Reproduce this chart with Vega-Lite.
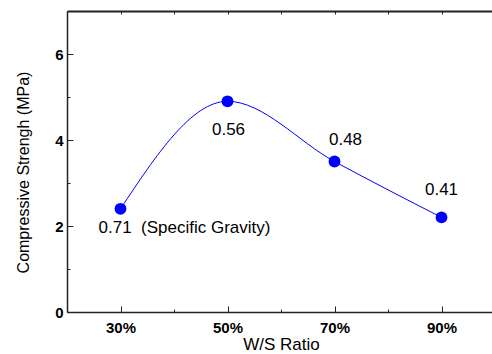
{
  "$schema": "https://vega.github.io/schema/vega-lite/v6.json",
  "autosize": "none",
  "width": 428,
  "height": 301,
  "padding": {"left": 67, "top": 11, "right": 0, "bottom": 42},
  "background": "white",
  "config": {
    "view": {"stroke": null},
    "font": "Liberation Sans",
    "axis": {"grid": false, "domainColor": "#222", "domainWidth": 1.5, "tickColor": "#222", "tickWidth": 1, "labelColor": "#000", "titleColor": "#000", "labelFont": "Liberation Sans", "titleFont": "Liberation Sans"}
  },
  "data": {"values": [
    {"ratio": 30, "strength": 2.4, "label": "0.71\u00a0 (Specific Gravity)"},
    {"ratio": 50, "strength": 4.9, "label": "0.56"},
    {"ratio": 70, "strength": 3.5, "label": "0.48"},
    {"ratio": 90, "strength": 2.2, "label": "0.41"}
  ]},
  "resolve": {"scale": {"x": "shared", "y": "shared"}, "axis": {"x": "independent", "y": "independent"}},
  "layer": [
    {
      "mark": {"type": "line", "interpolate": "monotone", "color": "#0000FF", "strokeWidth": 1},
      "encoding": {
        "x": {"field": "ratio", "type": "quantitative", "scale": {"domain": [20, 100], "nice": false, "zero": false},
          "axis": {"orient": "bottom", "values": [30, 50, 70, 90], "labelExpr": "datum.value + '%'", "labelFontWeight": "bold", "labelFontSize": 15, "tickSize": -6, "labelPadding": 14, "title": "W/S Ratio", "titleFontSize": 17, "titleFontWeight": "normal", "titlePadding": 1}},
        "y": {"field": "strength", "type": "quantitative", "scale": {"domain": [0, 7], "nice": false},
          "axis": {"orient": "left", "values": [0, 2, 4, 6], "labelFontWeight": "bold", "labelFontSize": 15, "tickSize": -6, "labelPadding": 10, "title": "Compressive Strengh (MPa)", "titleFontSize": 16, "titleFontWeight": "normal", "titleX": -36, "titleY": 161, "titleBaseline": "bottom", "titleAlign": "center", "titleAngle": -90}}
      }
    },
    {
      "mark": {"type": "point", "filled": true, "color": "#0000FF", "size": 140, "opacity": 1},
      "encoding": {
        "x": {"field": "ratio", "type": "quantitative",
          "axis": {"orient": "bottom", "values": [40, 60, 80], "labels": false, "tickSize": -3, "domain": false, "title": null}},
        "y": {"field": "strength", "type": "quantitative",
          "axis": {"orient": "left", "values": [1, 3, 5], "labels": false, "tickSize": -3, "domain": false, "title": null}}
      }
    },
    {
      "transform": [{"filter": "datum.ratio == 30"}],
      "mark": {"type": "text", "align": "left", "baseline": "alphabetic", "dx": -22, "dy": 24, "fontSize": 17, "color": "#000"},
      "encoding": {
        "x": {"field": "ratio", "type": "quantitative",
          "axis": {"orient": "top", "values": [20, 30, 40, 50, 60, 70, 80, 90, 100], "labels": false, "tickSize": -3, "domainWidth": 2, "title": null}},
        "y": {"field": "strength", "type": "quantitative", "axis": null},
        "text": {"field": "label"}
      }
    },
    {
      "transform": [{"filter": "datum.ratio == 50"}],
      "mark": {"type": "text", "align": "center", "baseline": "alphabetic", "dx": 1, "dy": 34, "fontSize": 17, "color": "#000"},
      "encoding": {
        "x": {"field": "ratio", "type": "quantitative", "axis": null},
        "y": {"field": "strength", "type": "quantitative", "axis": null},
        "text": {"field": "label"}
      }
    },
    {
      "transform": [{"filter": "datum.ratio == 70"}],
      "mark": {"type": "text", "align": "center", "baseline": "alphabetic", "dx": 11, "dy": -17, "fontSize": 17, "color": "#000"},
      "encoding": {
        "x": {"field": "ratio", "type": "quantitative", "axis": null},
        "y": {"field": "strength", "type": "quantitative", "axis": null},
        "text": {"field": "label"}
      }
    },
    {
      "transform": [{"filter": "datum.ratio == 90"}],
      "mark": {"type": "text", "align": "center", "baseline": "alphabetic", "dx": 0, "dy": -22, "fontSize": 17, "color": "#000"},
      "encoding": {
        "x": {"field": "ratio", "type": "quantitative", "axis": null},
        "y": {"field": "strength", "type": "quantitative", "axis": null},
        "text": {"field": "label"}
      }
    }
  ]
}
